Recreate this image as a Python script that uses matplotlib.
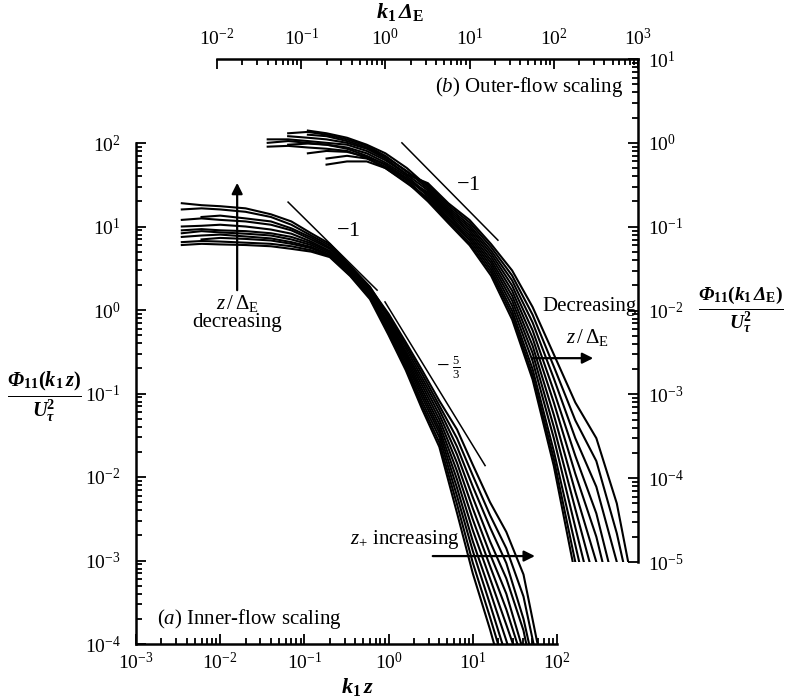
import matplotlib.pyplot as plt
import numpy as np

plt.rcParams.update({
    "font.family": "serif",
    "font.serif": ["Liberation Serif", "DejaVu Serif"],
    "mathtext.fontset": "custom",
    "mathtext.rm": "Liberation Serif",
    "mathtext.it": "Liberation Serif:italic",
    "mathtext.bf": "Liberation Serif:bold",
    "mathtext.bfit": "Liberation Serif:italic:bold",
})

nan = np.nan

# ---- (a) inner-flow scaling: Phi11(k1 z)/U_tau^2 against k1 z ----
K_INNER = [0.0035, 0.006, 0.01, 0.02, 0.04, 0.07, 0.12, 0.2, 0.35, 0.6,
           1.0, 1.6, 2.5, 4.0, 6.5, 10, 16, 25, 40, 60]
INNER_PHI = [
    [19, 18, 17.5, 16.5, 14, 11.5, 8.3, 6.2, 3.4, 1.9,
     0.85, 0.38, 0.171, 0.072, 0.029, 0.0104, 0.0035, 0.0014, 3.7e-4, 5.4e-5],
    [16, 16.5, 16, 15, 13, 10.5, 7.8, 5.9, 3.3, 1.85,
     0.90, 0.41, 0.19, 0.082, 0.037, 0.014, 0.005, 0.0022, 6.8e-4, 9e-5],
    [nan, 13, 13.5, 12.5, 11.5, 9.5, 7.4, 5.6, 3.2, 1.8,
     0.76, 0.32, 0.138, 0.056, 0.0185, 0.0057, 0.0017, 6.1e-4, 1.45e-4, 2e-5],
    [12, 12.5, 12, 11.5, 10.5, 9.0, 7.0, 5.4, 3.1, 1.75,
     0.80, 0.35, 0.153, 0.064, 0.023, 0.0077, 0.0025, 9.3e-4, 2.0e-4, 3.2e-5],
    [10, 10.2, 10.5, 10, 9.2, 8.2, 6.6, 5.1, 3.0, 1.7,
     0.67, 0.28, 0.111, 0.043, 0.0117, 0.0031, 8.6e-4, 2.6e-4, 5.9e-5, nan],
    [9, 9.3, 9.0, 8.8, 8.3, 7.5, 6.3, 5.0, 2.9, 1.6,
     0.71, 0.30, 0.124, 0.049, 0.0147, 0.0042, 0.0012, 4.0e-4, 8.1e-5, nan],
    [8.3, 8.8, 8.5, 8.2, 7.8, 7.0, 6.0, 4.8, 2.85, 1.55,
     0.60, 0.24, 0.090, 0.034, 0.0074, 0.0017, 4.3e-4, 1.1e-4, 2.2e-5, nan],
    [7.5, 7.8, 8.0, 7.6, 7.2, 6.5, 5.7, 4.6, 2.75, 1.5,
     0.64, 0.26, 0.100, 0.038, 0.0093, 0.0023, 6.1e-4, 1.7e-4, 4.3e-5, nan],
    [nan, 7.0, 7.3, 7.1, 6.8, 6.2, 5.5, 4.5, 2.7, 1.45,
     0.53, 0.205, 0.072, 0.026, 0.0047, 9.4e-4, 2.1e-4, 4.7e-5, nan, nan],
    [6.5, 6.7, 6.6, 6.4, 6.2, 5.8, 5.2, 4.4, 2.6, 1.4,
     0.56, 0.22, 0.080, 0.030, 0.0059, 0.0013, 3.0e-4, 7.1e-5, nan, nan],
    [6.0, 6.2, 6.1, 6.0, 5.8, 5.4, 5.0, 4.3, 2.55, 1.35,
     0.50, 0.19, 0.065, 0.023, 0.0037, 7.0e-4, 1.5e-4, 3.0e-5, nan, nan],
]

# ---- (b) outer-flow scaling: Phi11(k1 Delta_E)/U_tau^2 against k1 Delta_E ----
K_OUTER = [0.04, 0.07, 0.12, 0.2, 0.35, 0.6, 1.0, 1.8, 3.2, 5.6,
           10, 18, 32, 56, 100, 180, 320, 560, 1000]
OUTER_PHI = [
    [1.0, 1.05, 1.0, 0.95, 0.85, 0.7, 0.55, 0.36, 0.257, 0.145,
     0.085, 0.040, 0.015, 0.0038, 5.7e-4, 6.9e-5, 1.0e-5, 1.0e-6, nan],
    [nan, 1.3, 1.35, 1.25, 1.1, 0.92, 0.7, 0.45, 0.314, 0.180,
     0.112, 0.057, 0.0261, 0.0089, 2.15e-3, 4.9e-4, 1.6e-4, 2.2e-5, 1.6e-6],
    [0.9, 0.92, 0.88, 0.85, 0.8, 0.66, 0.5, 0.33, 0.221, 0.123,
     0.069, 0.0309, 0.0099, 0.0020, 2.1e-4, 1.6e-5, 1.3e-6, nan, nan],
    [nan, nan, 0.75, 0.8, 0.78, 0.68, 0.55, 0.38, 0.232, 0.129,
     0.074, 0.0337, 0.0114, 0.0025, 3.0e-4, 2.6e-5, 2.5e-6, nan, nan],
    [nan, 1.2, 1.15, 1.1, 1.0, 0.85, 0.65, 0.42, 0.33, 0.19,
     0.120, 0.062, 0.030, 0.011, 3.0e-3, 8.0e-4, 3.0e-4, 5.0e-5, 2.5e-6],
    [nan, nan, nan, 0.55, 0.6, 0.6, 0.5, 0.34, 0.20, 0.110,
     0.060, 0.026, 0.0078, 0.0015, 1.4e-4, 7.0e-6, nan, nan, nan],
    [1.1, 1.1, 1.05, 1.0, 0.95, 0.8, 0.62, 0.42, 0.270, 0.153,
     0.091, 0.0438, 0.0172, 0.0047, 8.0e-4, 1.13e-4, 2.0e-5, 2.0e-6, nan],
    [nan, nan, 1.4, 1.3, 1.15, 0.95, 0.75, 0.5, 0.299, 0.170,
     0.104, 0.052, 0.0228, 0.0072, 1.55e-3, 3.0e-4, 7.9e-5, 1.0e-5, 1.0e-6],
    [nan, nan, nan, 0.65, 0.7, 0.65, 0.52, 0.36, 0.210, 0.116,
     0.064, 0.0284, 0.0088, 0.0017, 1.7e-4, 1.0e-5, 6.0e-7, nan, nan],
    [nan, 0.95, 0.98, 0.95, 0.88, 0.75, 0.58, 0.4, 0.244, 0.137,
     0.079, 0.0368, 0.0131, 0.0031, 4.1e-4, 4.3e-5, 5.0e-6, nan, nan],
    [nan, nan, 1.25, 1.2, 1.05, 0.88, 0.68, 0.46, 0.284, 0.161,
     0.0975, 0.0478, 0.0198, 0.0058, 1.1e-3, 1.85e-4, 3.8e-5, 4.0e-6, nan],
]

# reference slopes
SLOPE1_INNER_K = [0.064, 0.73]
SLOPE1_INNER_PHI = [19.6, 1.73]
SLOPE53_INNER_K = [0.906, 14.0]
SLOPE53_INNER_PHI = [1.25, 0.0137]
SLOPE1_OUTER_K = [1.57, 21.7]
SLOPE1_OUTER_PHI = [1.0, 0.069]

W, H = 787, 700
fig = plt.figure(figsize=(W / 100, H / 100), dpi=100)


def px_rect(x0, y0, x1, y1):
    return [x0 / W, 1 - y1 / H, (x1 - x0) / W, (y1 - y0) / H]


ax_in = fig.add_axes(px_rect(136, 143, 557, 644))
ax_out = fig.add_axes(px_rect(217, 59, 638, 562))
ax_out.patch.set_visible(False)

CURVE_KW = dict(color="black", lw=1.5, solid_joinstyle="round")

for phi in INNER_PHI:
    ax_in.plot(K_INNER, phi, **CURVE_KW)
for phi in OUTER_PHI:
    ax_out.plot(K_OUTER, phi, **CURVE_KW)

ax_in.plot(SLOPE1_INNER_K, SLOPE1_INNER_PHI, color="black", lw=1.1)
ax_in.plot(SLOPE53_INNER_K, SLOPE53_INNER_PHI, color="black", lw=1.1)
ax_out.plot(SLOPE1_OUTER_K, SLOPE1_OUTER_PHI, color="black", lw=1.1)

for ax in (ax_in, ax_out):
    ax.set_xscale("log")
    ax.set_yscale("log")
    ax.tick_params(which="both", direction="in", width=1.3, labelsize=14)
    ax.tick_params(which="major", length=7)
    ax.tick_params(which="minor", length=4.5)

ax_in.set_xlim(1e-3, 1e2)
ax_in.set_ylim(1e-4, 1e2)
for side in ("top", "right"):
    ax_in.spines[side].set_visible(False)
for side in ("left", "bottom"):
    ax_in.spines[side].set_linewidth(1.8)
ax_in.tick_params(axis="y", which="both", pad=11)
ax_in.tick_params(axis="x", which="both", pad=6)

ax_out.set_xlim(1e-2, 1e3)
ax_out.set_ylim(1e-5, 1e1)
ax_out.xaxis.tick_top()
ax_out.yaxis.tick_right()
for side in ("bottom", "left"):
    ax_out.spines[side].set_visible(False)
for side in ("top", "right"):
    ax_out.spines[side].set_linewidth(1.8)
ax_out.tick_params(axis="both", which="both", pad=7)

# slope labels
ax_in.text(0.33, 8.6, r"$-1$", fontsize=16, ha="center", va="center")
ax_in.text(4.43, 0.207, "\u2212", fontsize=16, ha="center", va="center")
ax_in.text(6.3, 0.207, r"$\frac{5}{3}$", fontsize=13, ha="center", va="center")
ax_out.text(9.6, 0.31, r"$-1$", fontsize=16, ha="center", va="center")

ARROW = dict(arrowstyle="-|>", color="black", lw=1.6, mutation_scale=16)

# z/Delta_E decreasing (inner)
ax_in.annotate("", xy=(0.0159, 36), xytext=(0.0159, 1.6), arrowprops=ARROW)
ax_in.text(0.0159, 1.2, r"$z\,/\,\mathit{\Delta}_{\mathrm{E}}$", fontsize=15,
           ha="center", va="center")
ax_in.text(0.0159, 0.70, "decreasing", fontsize=15, ha="center", va="center")

# z+ increasing (inner)
ax_in.text(1.57, 0.00176, r"$z_{+}$ increasing", fontsize=15,
           ha="center", va="center")
ax_in.annotate("", xy=(59, 0.00113), xytext=(3.1, 0.00113), arrowprops=ARROW)

# Decreasing z/Delta_E (outer)
ax_out.text(960, 0.0113, "Decreasing", fontsize=15, ha="right", va="center")
ax_out.text(250, 0.0047, r"$z\,/\,\mathit{\Delta}_{\mathrm{E}}$", fontsize=15,
            ha="center", va="center")
ax_out.annotate("", xy=(317, 0.0027), xytext=(52, 0.0027), arrowprops=ARROW)

# panel captions
ax_in.text(1.8e-3, 2.0e-4, r"($\mathit{a}$) Inner-flow scaling", fontsize=15,
           ha="left", va="center")
ax_out.text(664, 4.6, r"($\mathit{b}$) Outer-flow scaling", fontsize=15,
            ha="right", va="center")

# axis labels
fig.text(357 / W, 1 - 687 / H, r"$\mathbfit{k}_{\mathbf{1}}\,\mathbfit{z}$",
         fontsize=16, ha="center", va="center")
fig.text(400 / W, 1 - 12 / H,
         r"$\mathbfit{k}_{\mathbf{1}}\,\mathbfit{\Delta}_{\mathbf{E}}$",
         fontsize=16, ha="center", va="center")
fig.text(44 / W, 1 - 397 / H,
         r"$\frac{\mathbfit{\Phi}_{\mathbf{11}}\mathbf{(}\mathbfit{k}_{\mathbf{1}}"
         r"\,\mathbfit{z}\mathbf{)}}{\mathbfit{U}_{\mathbfit{\tau}}^{\mathbf{2}}}$",
         fontsize=21, ha="center", va="center")
fig.text(741 / W, 1 - 310 / H,
         r"$\frac{\mathbfit{\Phi}_{\mathbf{11}}\mathbf{(}\mathbfit{k}_{\mathbf{1}}"
         r"\,\mathbfit{\Delta}_{\mathbf{E}}\mathbf{)}}"
         r"{\mathbfit{U}_{\mathbfit{\tau}}^{\mathbf{2}}}$",
         fontsize=20, ha="center", va="center")

fig.savefig("out.png", dpi=100, facecolor="white")
